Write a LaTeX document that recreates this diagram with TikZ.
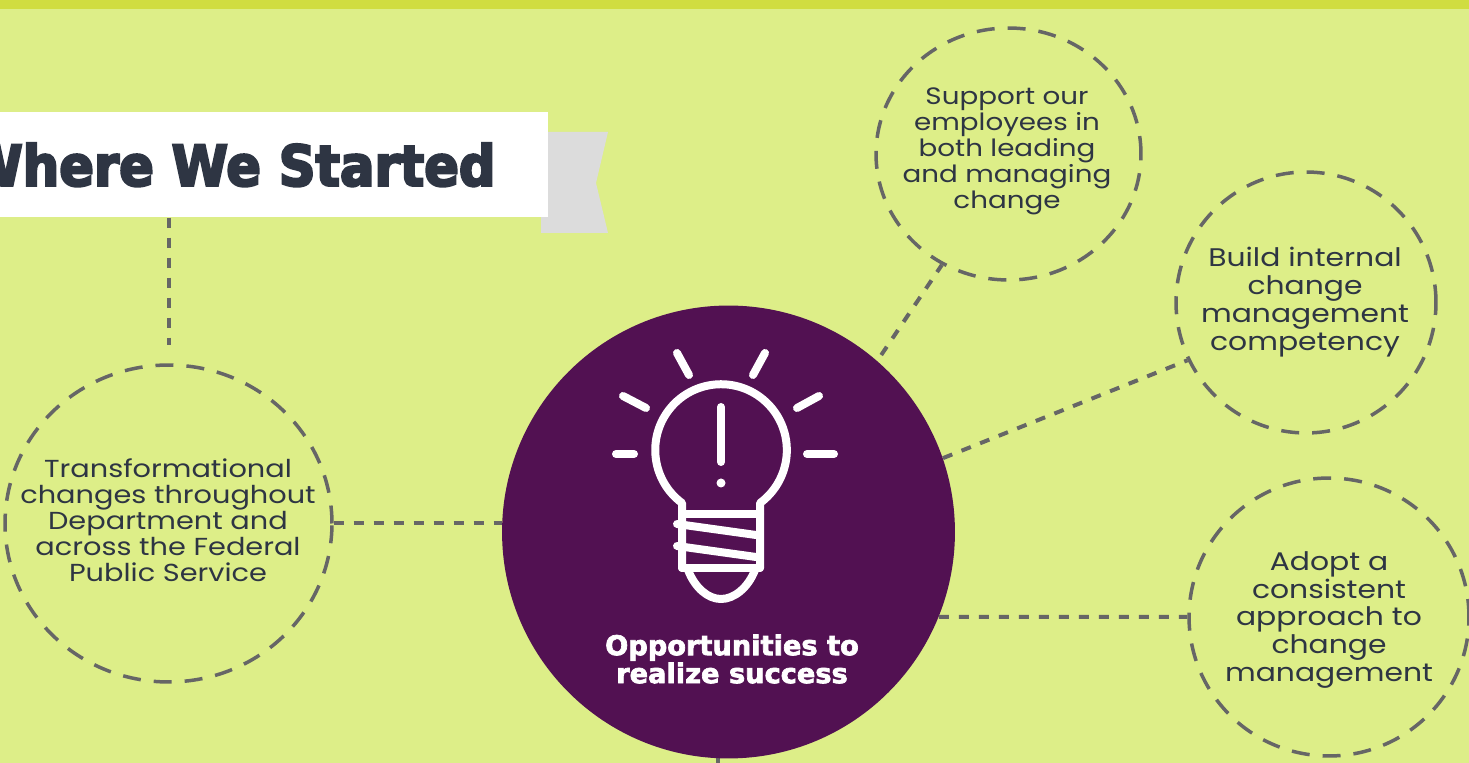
\documentclass[tikz,border=0pt]{standalone}
\usepackage{fontspec}
\setmainfont{Poppins}
\newfontfamily\topicfont[FakeStretch=1.17]{Poppins}
\newfontfamily\headfont[FakeBold=2.5]{DejaVu Sans}
\newfontfamily\bannerfont[FakeBold=4,FakeStretch=.91]{DejaVu Sans}
\usetikzlibrary{shapes.geometric}
\definecolor{bgcol}{HTML}{DDEE88}
\definecolor{stripcol}{HTML}{D0DD40}
\definecolor{plumcol}{HTML}{521152}
\definecolor{inkcol}{HTML}{2E3543}
\definecolor{linkcol}{HTML}{666666}
\definecolor{flagcol}{HTML}{DCDCDC}
\tikzset{
	topic/.style={ellipse,draw=linkcol,line width=.07cm,dash pattern=on .36cm off .26cm,inner sep=0pt},
	topictext/.style={align=center,text=inkcol,inner sep=0pt,font=\topicfont\fontsize{14}{14.8}\selectfont},
	topicbig/.style={topictext,font=\topicfont\fontsize{14.5}{15.9}\selectfont},
	linkline/.style={draw=linkcol,line width=.08cm,dash pattern=on .2cm off .2cm},
	bulbline/.style={draw=white,line width=.16cm,line cap=round,line join=round}
}
\begin{document}
\begin{tikzpicture}[x=.02cm,y=.02cm]

	\clip (0,0) rectangle (1469,763);
	\fill[bgcol] (0,0) rectangle (1469,763);
	\fill[stripcol] (0,754) rectangle (1469,763);

	% ribbon behind the title
	\fill[flagcol] (548,631) -- (608,631) -- (596,580) -- (608,530) -- (541,530) -- (541,546) -- cycle;
	\node (banner) [fill=white,anchor=north east,inner ysep=0pt,inner xsep=1.04cm,minimum height=2.1cm,text=inkcol,font=\bannerfont\bfseries\fontsize{32}{36}\selectfont] at (548,651) {Where We Started};

	\coordinate (stub) at (718,12);
	\draw[linkline,solid] (stub) -- (stub |- 0,0);

	\node (mainc) [circle,fill=plumcol,inner sep=0pt,minimum size=9.06cm] at (728.5,231) {};

	\node (leftc) [topic,minimum width=6.54cm,minimum height=6.34cm] at (168.5,239.5) {};
	\node (supportc) [topic,minimum width=5.3cm,minimum height=5.04cm] at (1008.5,609) {};
	\node (buildc) [topic,minimum width=5.2cm,minimum height=5.22cm] at (1306,460.5) {};
	\node (adoptc) [topic,minimum width=5.6cm,minimum height=5.56cm] at (1329,146) {};

	\node (lefttext) [topictext] at (168,242.5) {Transformational\\changes throughout\\Department and\\across the Federal\\Public Service};
	\node (supporttext) [topictext,font=\topicfont\fontsize{13.5}{14.8}\selectfont] at (1007,612) {Support our\\employees in\\both leading\\and managing\\change};
	\node (buildtext) [topicbig] at (1305,461) {Build internal\\change\\management\\competency};
	\node (adopttext) [topicbig] at (1329,143) {Adopt a\\consistent\\approach to\\change\\management};

	\draw[linkline,shorten >=.36cm] (banner.south -| leftc.north) -- (leftc.north);
	\draw[linkline] (leftc.east) -- (leftc.east -| mainc.west);
	\draw[linkline,shorten <=.14cm] (mainc.49) -- (supportc.239);
	\draw[linkline] (mainc.19.4) -- (buildc.206.4);
	\draw[linkline] (mainc.-22) -- (adoptc.west);

	% bulb
	\foreach \xa/\ya/\xb/\yb in {677/410/689/388,765/410/753/388,623/367/646/355,819/367/797/355,616/309/634/309,807/309/834/309}
	{
		\draw[bulbline] (\xa,\ya) -- (\xb,\yb);
	}
	\draw[bulbline] (682,195) -- (682,260) arc[start angle=233.6,end angle=-53.6,radius=65.8] -- (760,195);
	\draw[bulbline] (682,249) -- (760,249);
	\draw[bulbline] (677,239) -- (756,228);
	\draw[bulbline] (677,217) -- (756,206);
	\draw[bulbline] (682,195) -- (760,195);
	\draw[bulbline] (688,193) .. controls (695,175) and (708,164) .. (721,164) .. controls (734,164) and (748,175) .. (755,193);
	\draw[bulbline] (721,356) -- (721,301);
	\fill[white] (721,280) circle[radius=4.5];

	\node (maintext) [align=center,text=white,font=\headfont\bfseries\fontsize{15.5}{15.9}\selectfont] at (732,104) {Opportunities to\\realize success};

\end{tikzpicture}
\end{document}
